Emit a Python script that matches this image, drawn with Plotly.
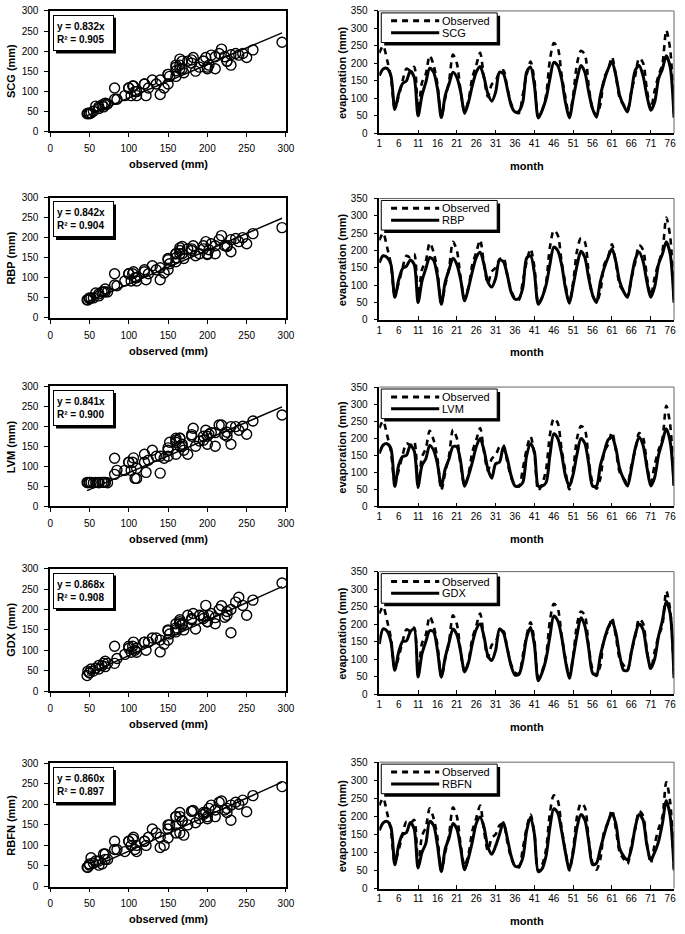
import plotly.graph_objects as go
from plotly.subplots import make_subplots

W, H = 685, 934

months = list(range(1, 78))

observed = [230, 250, 210, 160, 73, 106, 150, 185, 180, 190,
            55, 145, 170, 222, 195, 140, 48, 100, 150, 225,
            200, 120, 62, 95, 160, 195, 230, 160, 105, 140,
            150, 175, 180, 130, 85, 62, 58, 110, 168, 205,
            152, 47, 66, 108, 210, 258, 245, 168, 103, 50,
            110, 200, 236, 225, 135, 70, 52, 82, 160, 182,
            218, 165, 100, 82, 68, 120, 165, 215, 202, 125,
            70, 122, 165, 198, 295, 240, 50]

scg = [165, 184, 186, 165, 68, 113, 142, 150, 178, 160,
       50, 108, 146, 186, 175, 128, 45, 108, 142, 175,
       160, 118, 57, 89, 137, 175, 191, 160, 113, 92,
       118, 175, 170, 128, 80, 61, 63, 89, 175, 190,
       137, 44, 66, 99, 156, 203, 194, 156, 89, 44,
       99, 156, 194, 175, 118, 70, 46, 108, 151, 184,
       205, 165, 108, 80, 61, 118, 180, 194, 165, 108,
       66, 89, 156, 184, 222, 190, 45]

rbp = [165, 185, 180, 160, 65, 115, 148, 155, 172, 160,
       50, 112, 148, 180, 172, 125, 45, 110, 145, 178,
       160, 115, 55, 92, 140, 180, 195, 160, 110, 95,
       120, 172, 168, 130, 80, 60, 62, 92, 178, 185,
       135, 45, 65, 100, 160, 210, 200, 160, 92, 48,
       100, 158, 198, 180, 120, 72, 50, 110, 150, 180,
       205, 168, 110, 82, 65, 120, 175, 195, 170, 110,
       65, 95, 160, 190, 225, 190, 50]

lvm = [155, 180, 184, 170, 59, 121, 146, 150, 179, 163,
       59, 120, 140, 179, 165, 125, 59, 110, 140, 175,
       175, 130, 59, 90, 130, 175, 199, 165, 110, 83,
       125, 130, 175, 140, 90, 60, 60, 70, 150, 184,
       160, 60, 60, 70, 150, 213, 200, 155, 90, 60,
       95, 155, 199, 185, 125, 60, 60, 120, 160, 195,
       203, 170, 110, 80, 60, 110, 170, 203, 180, 115,
       60, 85, 150, 190, 228, 190, 60]

gdx = [143, 186, 180, 150, 68, 120, 150, 152, 178, 186,
       49, 115, 150, 181, 178, 125, 49, 105, 148, 186,
       170, 120, 63, 90, 145, 185, 200, 165, 110, 96,
       125, 186, 175, 130, 80, 54, 56, 95, 162, 190,
       140, 38, 62, 100, 165, 223, 210, 165, 95, 45,
       105, 170, 218, 195, 130, 60, 54, 110, 155, 190,
       209, 175, 110, 68, 68, 120, 170, 200, 185, 120,
       73, 100, 165, 210, 265, 230, 45]

rbfn = [161, 182, 186, 170, 66, 120, 150, 155, 183, 165,
        57, 100, 125, 186, 175, 120, 47, 110, 140, 180,
        165, 110, 52, 85, 130, 180, 198, 170, 115, 95,
        118, 150, 183, 140, 90, 62, 62, 85, 160, 198,
        150, 47, 55, 90, 170, 221, 210, 160, 100, 52,
        100, 170, 205, 190, 130, 66, 70, 110, 150, 185,
        208, 180, 110, 90, 79, 110, 170, 205, 190, 120,
        79, 100, 130, 180, 243, 200, 55]

model_names = ["SCG", "RBP", "LVM", "GDX", "RBFN"]
model_values = [scg, rbp, lvm, gdx, rbfn]
slopes = [0.832, 0.842, 0.841, 0.868, 0.860]
r2_values = [0.905, 0.904, 0.900, 0.908, 0.897]

scatter_ticks = [0, 50, 100, 150, 200, 250, 300]
evap_ticks = [0, 50, 100, 150, 200, 250, 300, 350]
month_ticks = list(range(1, 77, 5))
month_minor = [10.999, 20.999, 30.999, 40.999, 50.999, 60.999, 70.999]

# ---- layout geometry (pixels) ----
LX = (48, 288)
RX = (383, 683)
left_rows = [(5, 127), (194, 316), (385, 507), (570, 694), (767, 892)]
right_rows = [(5, 129), (195, 318), (386, 507), (573, 697), (766, 894)]

FONT = "Liberation Sans, Arial, sans-serif"


def px(x):
    return x / W


def py(y):
    return 1 - y / H


fig = make_subplots(rows=5, cols=2)

annotations = []
shapes = []

for i, (name, vals, k, r2) in enumerate(zip(model_names, model_values, slopes, r2_values)):
    row = i + 1
    # ---- scatter panel ----
    fig.add_trace(go.Scatter(
        x=observed, y=vals, mode="markers",
        marker=dict(symbol="circle-open", size=10, color="black", line=dict(width=1.4)),
        showlegend=False, hoverinfo="skip"), row=row, col=1)
    xmin, xmax = min(observed), max(observed)
    fig.add_trace(go.Scatter(
        x=[xmin, xmax], y=[k * xmin, k * xmax], mode="lines",
        line=dict(color="black", width=1.5), showlegend=False, hoverinfo="skip"),
        row=row, col=1)
    # ---- time series panel ----
    fig.add_trace(go.Scatter(
        x=months, y=observed, mode="lines", name="Observed",
        line=dict(color="black", width=2.6, dash="6px,5px", shape="spline", smoothing=0.8),
        showlegend=False, hoverinfo="skip"), row=row, col=2)
    fig.add_trace(go.Scatter(
        x=months, y=vals, mode="lines", name=name,
        line=dict(color="black", width=3, shape="spline", smoothing=0.8),
        showlegend=False, hoverinfo="skip"), row=row, col=2)

    ln = 2 * i + 1
    rn = 2 * i + 2
    lt, lb = left_rows[i]
    rt, rb = right_rows[i]
    sfx_l = "" if ln == 1 else str(ln)
    sfx_r = str(rn)

    tickfont = dict(family=FONT, size=10, color="black")
    fig.layout["xaxis" + sfx_l].update(
        domain=[px(LX[0]), px(LX[1])], range=[0, 300], tickvals=scatter_ticks,
        showgrid=False, zeroline=False, showline=True, linecolor="black", linewidth=1.5,
        mirror=True, ticks="outside", ticklen=4, tickcolor="black", tickfont=tickfont,
        ticklabelstandoff=3)
    fig.layout["yaxis" + sfx_l].update(
        domain=[py(lb), py(lt)], range=[0, 300], tickvals=scatter_ticks,
        showgrid=False, zeroline=False, showline=True, linecolor="black", linewidth=1.5,
        mirror=True, ticks="outside", ticklen=4, tickcolor="black", tickfont=tickfont,
        ticklabelstandoff=4)
    fig.layout["xaxis" + sfx_r].update(
        domain=[px(RX[0]), px(RX[1])], range=[1, 77], tickvals=month_ticks,
        showgrid=False, zeroline=False, showline=True, linecolor="black", linewidth=1.5,
        ticks="", tickfont=tickfont, ticklabelstandoff=0,
        minor=dict(tickmode="array", tickvals=month_minor, ticks="inside", ticklen=4,
                   tickcolor="black", tickwidth=1))
    fig.layout["yaxis" + sfx_r].update(
        domain=[py(rb), py(rt)], range=[0, 350], tickvals=evap_ticks,
        showgrid=False, zeroline=False, showline=True, linecolor="black", linewidth=1.5,
        ticks="outside", ticklen=4, tickcolor="black", tickfont=tickfont,
        ticklabelstandoff=4)

    # right panel top/right border
    shapes.append(dict(type="line", xref="paper", yref="paper",
                       x0=px(RX[0]), x1=px(RX[1]), y0=py(rt), y1=py(rt),
                       line=dict(color="#666666", width=1)))
    shapes.append(dict(type="line", xref="paper", yref="paper",
                       x0=px(RX[1]), x1=px(RX[1]), y0=py(rt), y1=py(rb),
                       line=dict(color="#666666", width=1)))

    # ---- equation box with shadow ----
    ex0, ey0 = LX[0] + 3, lt + 4
    ew, eh = 61, 36
    shapes.append(dict(type="rect", xref="paper", yref="paper",
                       x0=px(ex0 + 3), x1=px(ex0 + 3 + ew), y0=py(ey0 + 3), y1=py(ey0 + 3 + eh),
                       fillcolor="black", line=dict(width=0)))
    annotations.append(dict(
        xref="paper", yref="paper", x=px(ex0), y=py(ey0),
        xanchor="left", yanchor="top", align="left", showarrow=False,
        text=f"y = {k:.3f}x<br>R² = {r2:.3f}",
        width=ew - 8, height=eh - 8, valign="middle",
        font=dict(family=FONT, size=10, color="black", weight="bold"),
        bgcolor="white", bordercolor="black", borderwidth=1, borderpad=3))

    # ---- legend box with shadow ----
    bx0, bx1 = RX[0] + 2, RX[0] + 120
    by0, by1 = rt + 2, rt + 32
    shapes.append(dict(type="rect", xref="paper", yref="paper",
                       x0=px(bx0 + 3), x1=px(bx1 + 3), y0=py(by0 + 3), y1=py(by1 + 3),
                       fillcolor="black", line=dict(width=0)))
    shapes.append(dict(type="rect", xref="paper", yref="paper",
                       x0=px(bx0), x1=px(bx1), y0=py(by0), y1=py(by1),
                       fillcolor="white", line=dict(color="black", width=1)))
    shapes.append(dict(type="line", xref="paper", yref="paper",
                       x0=px(RX[0] + 12), x1=px(RX[0] + 61), y0=py(rt + 10), y1=py(rt + 10),
                       line=dict(color="black", width=3, dash="6px,5px")))
    shapes.append(dict(type="line", xref="paper", yref="paper",
                       x0=px(RX[0] + 12), x1=px(RX[0] + 61), y0=py(rt + 22), y1=py(rt + 22),
                       line=dict(color="black", width=3)))
    for label, off in (("Observed", 10), (name, 22)):
        annotations.append(dict(
            xref="paper", yref="paper", x=px(RX[0] + 62), y=py(rt + off),
            xanchor="left", yanchor="middle", showarrow=False, text=label,
            font=dict(family=FONT, size=11, color="black")))

    # ---- axis titles ----
    tfont = dict(family=FONT, size=11, color="black", weight="bold")
    annotations.append(dict(xref="paper", yref="paper", x=px(8), y=py((lt + lb) / 2),
                            text=f"{name} (mm)", textangle=-90, showarrow=False,
                            xanchor="center", yanchor="middle", font=tfont))
    annotations.append(dict(xref="paper", yref="paper", x=px((LX[0] + LX[1]) / 2), y=py(lb + 33),
                            text="observed (mm)", showarrow=False,
                            xanchor="center", yanchor="middle", font=tfont))
    annotations.append(dict(xref="paper", yref="paper", x=px(345), y=py((rt + rb) / 2),
                            text="evaporation (mm)", textangle=-90, showarrow=False,
                            xanchor="center", yanchor="middle", font=tfont))
    annotations.append(dict(xref="paper", yref="paper", x=px((RX[0] + RX[1]) / 2), y=py(rb + 33),
                            text="month", showarrow=False,
                            xanchor="center", yanchor="middle", font=tfont))

fig.update_layout(
    width=W, height=H, margin=dict(l=0, r=0, t=0, b=0),
    paper_bgcolor="white", plot_bgcolor="white",
    showlegend=False, annotations=annotations, shapes=shapes,
    font=dict(family=FONT, color="black"))

fig.write_html("out.html", config={"displayModeBar": False},
               post_script="document.body.style.margin='0';")
